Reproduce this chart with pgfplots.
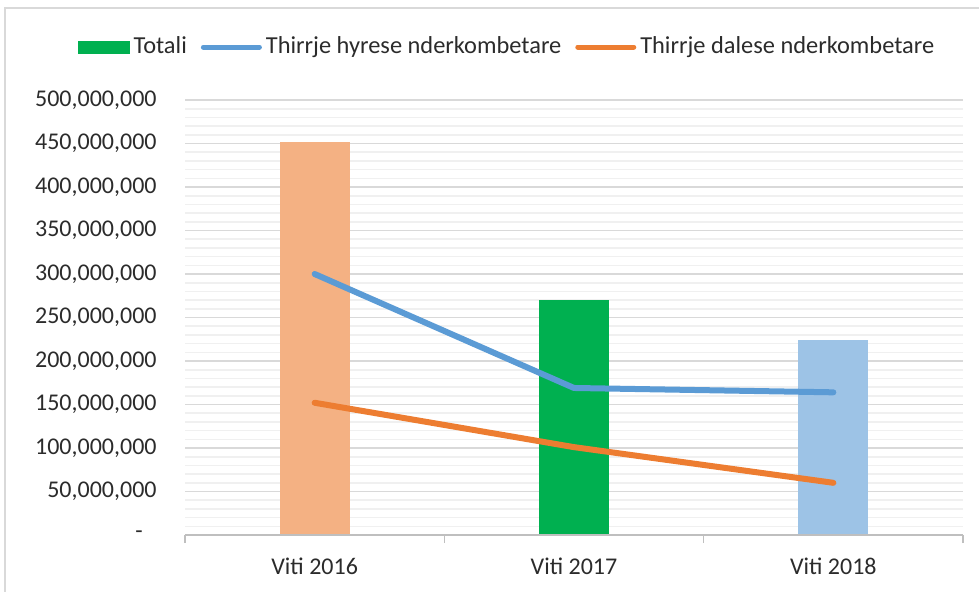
\documentclass[border=0pt]{standalone}
\usepackage{fontspec}
\setmainfont{Carlito}
\usepackage{pgfplots}
\pgfplotsset{compat=1.18}
\definecolor{barorange}{HTML}{F4B183}
\definecolor{bargreen}{HTML}{00B050}
\definecolor{barblue}{HTML}{9DC3E6}
\definecolor{lineblue}{HTML}{5B9BD5}
\definecolor{lineorange}{HTML}{ED7D31}
\definecolor{gridmaj}{HTML}{D9D9D9}
\definecolor{gridmin}{HTML}{F0F0F0}
\definecolor{axisgray}{HTML}{BFBFBF}
\definecolor{txt}{HTML}{2B2B2B}
\begin{document}
\begin{tikzpicture}
\useasboundingbox (0,0) rectangle (489.5pt,295.5pt);
% chart frame (only left and top edges visible)
\draw[gridmaj, line width=1pt] (2.5pt,-10pt) -- (2.5pt,291.5pt) -- (500pt,291.5pt);
\begin{axis}[
    at={(92.5pt,28pt)}, anchor=south west,
    width=389pt, height=217.5pt, scale only axis,
    font=\fontsize{12}{14}\selectfont,
    xmin=-0.5, xmax=2.5, ymin=0, ymax=500000000,
    axis line style={draw=none},
    scaled y ticks=false,
    xtick={0,1,2},
    xticklabels={Viti 2016, Viti 2017, Viti 2018},
    ytick={0,50000000,100000000,150000000,200000000,250000000,300000000,350000000,400000000,450000000,500000000},
    yticklabels={-\rule{7pt}{0pt},{50,000,000},{100,000,000},{150,000,000},{200,000,000},{250,000,000},{300,000,000},{350,000,000},{400,000,000},{450,000,000},{500,000,000}},
    /pgf/number format/assume math mode=true,
    ticklabel style={text=txt},
    yticklabel style={inner sep=0pt, xshift=-14pt},
    xticklabel style={yshift=-8pt},
    minor y tick num=4,
    ymajorgrids, yminorgrids,
    major grid style={draw=gridmaj, line width=0.8pt},
    minor grid style={draw=gridmin, line width=0.8pt},
    xtick style={draw=none}, ytick style={draw=none}, minor tick style={draw=none},
    xtick pos=lower,
    extra x ticks={-0.5,0.5,1.5,2.5},
    extra x tick labels={},
    extra x tick style={xtick style={draw=axisgray, line width=0.8pt}, tick align=outside, major tick length=4pt, grid=none},
    legend columns=3,
    legend style={draw=none, fill=none, at={(0.415,1)}, anchor=center, yshift=26.5pt,
        font=\fontsize{12.2}{14}\selectfont, text=txt,
        /tikz/every even column/.append style={column sep=5pt}},
    legend cell align=left,
]
\addplot[ybar, bar width=35pt, bar shift=0pt, fill=barorange, draw=none, forget plot]
    coordinates {(0,452000000)};
\addplot[ybar, bar width=35pt, bar shift=0pt, fill=barblue, draw=none, forget plot]
    coordinates {(2,224000000)};
\addplot[ybar, bar width=35pt, bar shift=0pt, fill=bargreen, draw=none,
    legend image code/.code={\fill[bargreen] (0pt,-3.25pt) rectangle (26pt,3.25pt);}]
    coordinates {(1,270000000)};
\addlegendentry{Totali}
\addplot[color=lineblue, line width=3pt, line cap=round, line join=round, mark=none,
    legend image code/.code={\draw[lineblue, line width=2.5pt, line cap=round] (0pt,0pt) -- (28pt,0pt);}]
    coordinates {(0,300000000) (1,169000000) (2,164000000)};
\addlegendentry{Thirrje hyrese nderkombetare}
\addplot[color=lineorange, line width=3pt, line cap=round, line join=round, mark=none,
    legend image code/.code={\draw[lineorange, line width=2.5pt, line cap=round] (0pt,0pt) -- (28pt,0pt);}]
    coordinates {(0,152000000) (1,101000000) (2,60000000)};
\addlegendentry{Thirrje dalese nderkombetare}
\end{axis}
% x axis line
\draw[axisgray, line width=0.8pt] (92.5pt,28pt) -- (481.5pt,28pt);
\end{tikzpicture}
\end{document}
